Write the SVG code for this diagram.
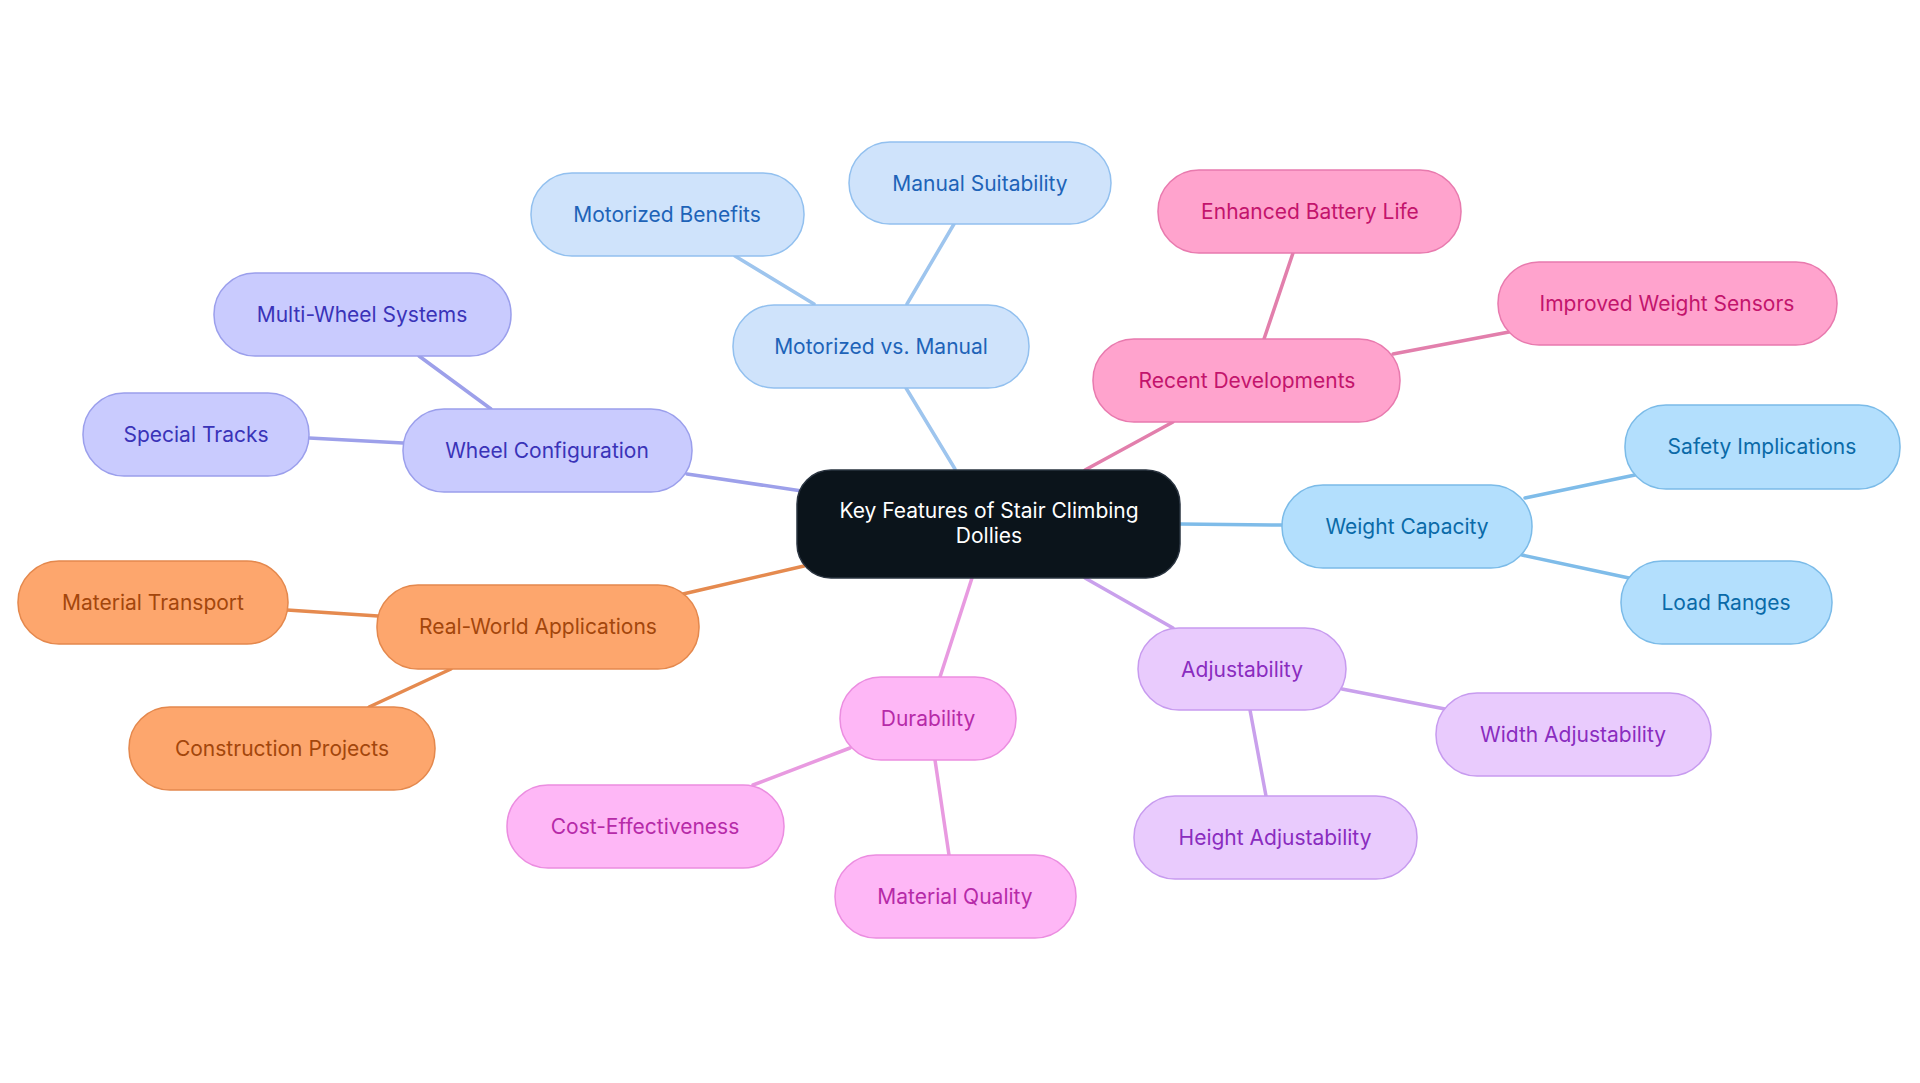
<svg xmlns="http://www.w3.org/2000/svg" width="1920" height="1083" viewBox="0 0 1920 1083">
<style>
text{font-family:Inter,"Open Sans","Liberation Sans",sans-serif;font-size:21px;text-anchor:middle;dominant-baseline:central}
rect{stroke-width:1.5}
line{stroke-width:3.5;stroke-linecap:round}
.b rect{fill:#cfe3fb;stroke:#92c0ef}.b text{fill:#1e63b8}
.p rect{fill:#ffa3cd;stroke:#e87aae}.p text{fill:#c3146c}
.s rect{fill:#b3dffd;stroke:#7bbbe8}.s text{fill:#0a6aa8}
.l rect{fill:#e9cbfd;stroke:#c79bef}.l text{fill:#8a2cbf}
.m rect{fill:#feb7f6;stroke:#eb8de0}.m text{fill:#b62aa8}
.o rect{fill:#fda66d;stroke:#e4884d}.o text{fill:#a3460c}
.i rect{fill:#c9cbfe;stroke:#9b9fec}.i text{fill:#3a33b8}
</style>
<rect width="1920" height="1083" fill="#fff"/>
<g id="connectors">
<g stroke="#9ec5ee"><line x1="955" y1="469" x2="906" y2="388"/><line x1="814" y1="304" x2="735" y2="256"/><line x1="907" y1="304" x2="954" y2="224"/></g>
<g stroke="#e27fac"><line x1="1085" y1="470" x2="1173" y2="422"/><line x1="1264" y1="339" x2="1293" y2="253"/><line x1="1393" y1="354" x2="1509" y2="332"/></g>
<g stroke="#7fbce9"><line x1="1180" y1="524" x2="1282" y2="525"/><line x1="1525" y1="498" x2="1635" y2="475"/><line x1="1522" y1="555" x2="1629" y2="578"/></g>
<g stroke="#c9a0ec"><line x1="1085" y1="578" x2="1173" y2="628"/><line x1="1342" y1="689" x2="1445" y2="709"/><line x1="1250" y1="710" x2="1266" y2="796"/></g>
<g stroke="#e89ae0"><line x1="972" y1="578" x2="940" y2="677"/><line x1="850" y1="748" x2="753" y2="785"/><line x1="935" y1="760" x2="949" y2="855"/></g>
<g stroke="#e58a4f"><line x1="804" y1="566" x2="683" y2="594"/><line x1="378" y1="616" x2="287" y2="610"/><line x1="451" y1="669" x2="369" y2="707"/></g>
<g stroke="#9da0ea"><line x1="802" y1="491" x2="687" y2="474"/><line x1="491" y1="409" x2="419" y2="356"/><line x1="403" y1="443" x2="309" y2="438"/></g>
</g>
<g id="center"><rect x="797" y="470" width="383" height="108" rx="34" fill="#0b141b" stroke="#2a3440"/><text x="989" y="510" fill="#fff">Key Features of Stair Climbing</text><text x="989" y="535" fill="#fff">Dollies</text></g>
<g id="motorized" class="b"><rect x="733" y="305" width="296" height="83" rx="41"/><text x="881" y="346">Motorized vs. Manual</text></g>
<g id="benefits" class="b"><rect x="531" y="173" width="273" height="83" rx="41"/><text x="667" y="214">Motorized Benefits</text></g>
<g id="manual" class="b"><rect x="849" y="142" width="262" height="82" rx="41"/><text x="980" y="183">Manual Suitability</text></g>
<g id="recent" class="p"><rect x="1093" y="339" width="307" height="83" rx="41"/><text x="1247" y="380">Recent Developments</text></g>
<g id="battery" class="p"><rect x="1158" y="170" width="303" height="83" rx="41"/><text x="1310" y="211">Enhanced Battery Life</text></g>
<g id="sensors" class="p"><rect x="1498" y="262" width="339" height="83" rx="41"/><text x="1667" y="303">Improved Weight Sensors</text></g>
<g id="weight" class="s"><rect x="1282" y="485" width="250" height="83" rx="41"/><text x="1407" y="526">Weight Capacity</text></g>
<g id="safety" class="s"><rect x="1625" y="405" width="275" height="84" rx="41"/><text x="1762" y="446">Safety Implications</text></g>
<g id="load" class="s"><rect x="1621" y="561" width="211" height="83" rx="41"/><text x="1726" y="602">Load Ranges</text></g>
<g id="adjust" class="l"><rect x="1138" y="628" width="208" height="82" rx="41"/><text x="1242" y="669">Adjustability</text></g>
<g id="width" class="l"><rect x="1436" y="693" width="275" height="83" rx="41"/><text x="1573" y="734">Width Adjustability</text></g>
<g id="height" class="l"><rect x="1134" y="796" width="283" height="83" rx="41"/><text x="1275" y="837">Height Adjustability</text></g>
<g id="durability" class="m"><rect x="840" y="677" width="176" height="83" rx="41"/><text x="928" y="718">Durability</text></g>
<g id="cost" class="m"><rect x="507" y="785" width="277" height="83" rx="41"/><text x="645" y="826">Cost-Effectiveness</text></g>
<g id="material" class="m"><rect x="835" y="855" width="241" height="83" rx="41"/><text x="955" y="896">Material Quality</text></g>
<g id="realworld" class="o"><rect x="377" y="585" width="322" height="84" rx="41"/><text x="538" y="626">Real-World Applications</text></g>
<g id="transport" class="o"><rect x="18" y="561" width="270" height="83" rx="41"/><text x="153" y="602">Material Transport</text></g>
<g id="construction" class="o"><rect x="129" y="707" width="306" height="83" rx="41"/><text x="282" y="748">Construction Projects</text></g>
<g id="wheel" class="i"><rect x="403" y="409" width="289" height="83" rx="41"/><text x="547" y="450">Wheel Configuration</text></g>
<g id="multi" class="i"><rect x="214" y="273" width="297" height="83" rx="41"/><text x="362" y="314">Multi-Wheel Systems</text></g>
<g id="special" class="i"><rect x="83" y="393" width="226" height="83" rx="41"/><text x="196" y="434">Special Tracks</text></g>
</svg>
